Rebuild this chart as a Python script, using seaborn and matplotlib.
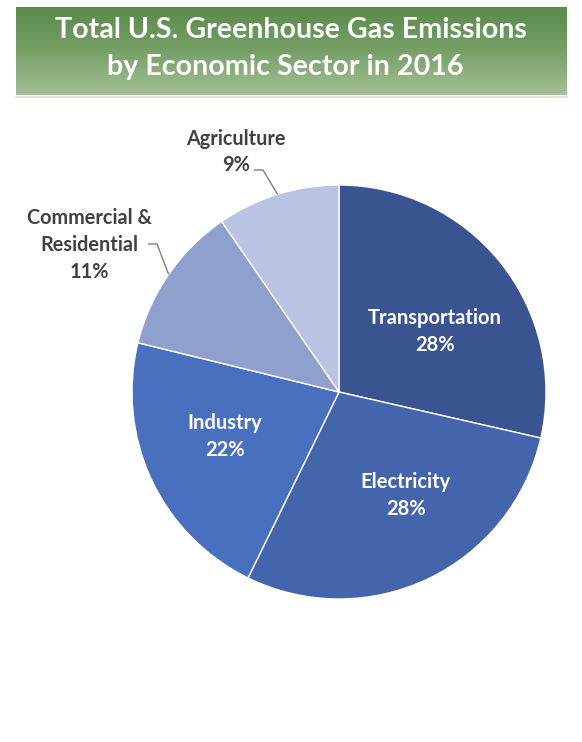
import numpy as np
import matplotlib
matplotlib.use("Agg")
import matplotlib.pyplot as plt
from matplotlib.colors import LinearSegmentedColormap
import seaborn as sns

# data (slice angles) and the printed percentages
sectors = ["Transportation", "Electricity", "Industry", "Commercial &\nResidential", "Agriculture"]
shares = [28.6, 28.7, 21.6, 11.6, 9.6]
pct_labels = ["28%", "28%", "22%", "11%", "9%"]
colors = ["#3a5491", "#4465ac", "#4970bf", "#8fa0cf", "#b8c4e1"]

title_lines = ["Total U.S. Greenhouse Gas Emissions", "by Economic Sector in 2016"]

sns.set_theme(style="white")
plt.rcParams['font.family'] = ['Lato', 'DejaVu Sans']

W, H = 582, 742
fig = plt.figure(figsize=(W / 100, H / 100), dpi=100)
fig.patch.set_facecolor("white")

# pie centre / radius in pixels, measured from the top-left corner
cx, cy, R = 339, 392, 207


def px(x, y):
    """pixel position (from top-left) -> data coords of the pie axes"""
    return (x - cx) / R, (cy - y) / R


ax = fig.add_axes([0, 0, 1, 1])
wedges, _ = ax.pie(shares, colors=colors, startangle=90, counterclock=False,
                   wedgeprops=dict(edgecolor="white", linewidth=1.0))
ax.set_aspect("auto")
ax.set_xlim(-cx / R, (W - cx) / R)
ax.set_ylim(-(H - cy) / R, cy / R)
ax.axis("off")

# labels inside the dark slices
inside_pos = {0: (435, 318), 1: (406, 482), 2: (225, 423)}
for i, (x, y) in inside_pos.items():
    ax.text(*px(x, y), sectors[i], ha="center", va="center", color="white",
            fontsize=14.5, fontweight="bold")
    ax.text(*px(x, y + 27), pct_labels[i], ha="center", va="center", color="white",
            fontsize=14.5, fontweight="bold")

# labels outside the light slices, with leader lines
outside = {
    4: dict(text=(236, 152), start=(254, 170), elbow=(263, 170)),
    3: dict(text=(89, 245), start=(148, 244), elbow=(157, 244)),
}
for i, o in outside.items():
    ax.text(*px(*o["text"]), sectors[i] + "\n" + pct_labels[i], ha="center", va="center",
            multialignment="center", color="#404040", fontsize=14.3, fontweight="bold",
            linespacing=1.42)
    w = wedges[i]
    mid = np.deg2rad((w.theta1 + w.theta2) / 2)
    tip = (np.cos(mid), np.sin(mid))
    p0, p1 = px(*o["start"]), px(*o["elbow"])
    ax.plot([p0[0], p1[0], tip[0]], [p0[1], p1[1], tip[1]], color="#7f7f7f", lw=1.0,
            solid_capstyle="butt")

# green title banner
bx0, bx1, by0, by1 = 16, 567, 7, 95
ax_b = fig.add_axes([bx0 / W, 1 - by1 / H, (bx1 - bx0) / W, (by1 - by0) / H])
greens = LinearSegmentedColormap.from_list("banner", ["#5a8a4c", "#77a067", "#a4c097"])
ax_b.imshow(np.linspace(0, 1, 100).reshape(-1, 1), cmap=greens, aspect="auto",
            extent=[0, 1, 0, 1])
ax_b.axis("off")
fig.add_artist(plt.Line2D([bx0 / W, bx1 / W], [1 - 96.5 / H, 1 - 96.5 / H],
                          color="#dfe9da", lw=1.5))

fig.text(291 / W, 1 - 38 / H, title_lines[0], ha="center", va="baseline",
         color="white", fontsize=20.6, fontweight="bold")
fig.text(285 / W, 1 - 75 / H, title_lines[1], ha="center", va="baseline",
         color="white", fontsize=20.6, fontweight="bold")

fig.savefig("out.png", dpi=100, facecolor="white")
